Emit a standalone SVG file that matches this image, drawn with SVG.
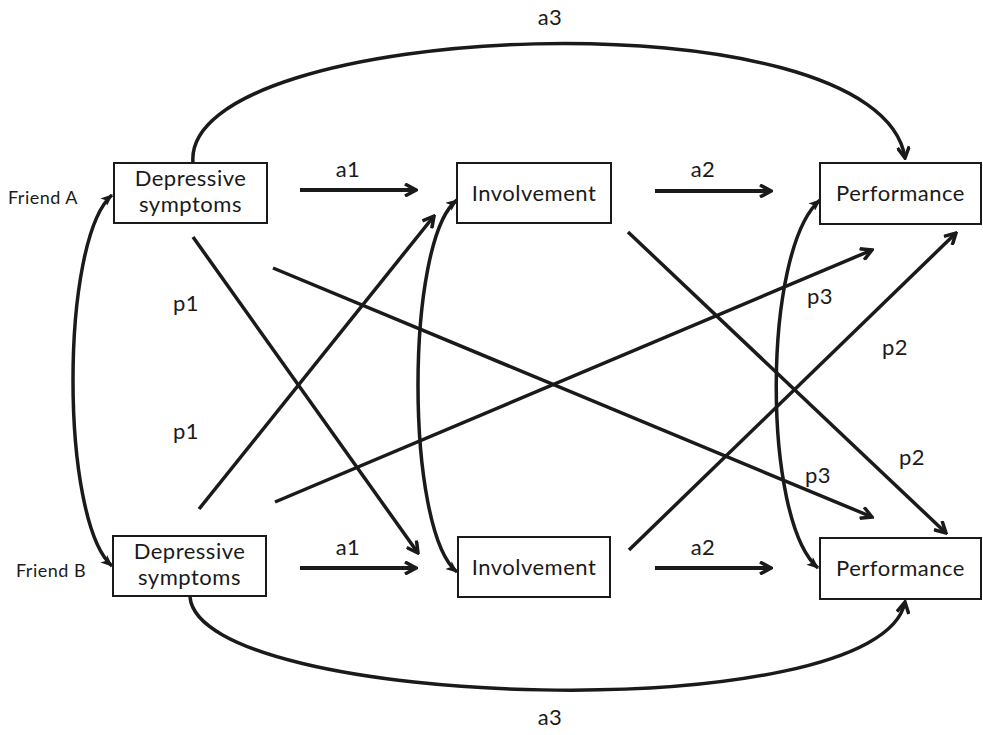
<svg xmlns="http://www.w3.org/2000/svg" width="983" height="735" viewBox="0 0 983 735">
<style>
.box{fill:#fff;stroke:#1a1a1a;stroke-width:2}
.t{font-family:Lato,"Open Sans","Liberation Sans",sans-serif;font-size:22px;letter-spacing:0.5px;fill:#1a1a1a;text-anchor:middle}
.f{font-family:Lato,"Open Sans","Liberation Sans",sans-serif;font-size:18px;letter-spacing:0.5px;fill:#1a1a1a;text-anchor:middle}
.c{fill:none;stroke:#1a1a1a;stroke-width:3.5;stroke-linecap:butt}
.s{fill:none;stroke:#1a1a1a;stroke-width:4}
</style>
<defs>
<marker id="chev" viewBox="0 0 14 14" refX="12" refY="7" markerWidth="14" markerHeight="14" markerUnits="userSpaceOnUse" orient="auto">
<path d="M1,1 L12,7 L1,13" fill="none" stroke="#1a1a1a" stroke-width="3.5" stroke-linejoin="miter"/>
</marker>
<marker id="tri" viewBox="0 0 12 10" refX="11" refY="5" markerWidth="12" markerHeight="10" markerUnits="userSpaceOnUse" orient="auto-start-reverse">
<path d="M0,0 L12,5 L0,10 L3,5 Z" fill="#1a1a1a"/>
</marker>
</defs>
<g id="connectors">
<path class="c" d="M193,163 C180,20 880,-10 905,158" marker-end="url(#chev)"/>
<path class="c" d="M190,597 C200,710 880,730 905,602" marker-end="url(#chev)"/>
<path class="c" d="M112,195 C60,240 60,520 112,566" marker-start="url(#tri)" marker-end="url(#tri)"/>
<path class="c" d="M457,200 C405,240 405,530 457,572" marker-start="url(#tri)" marker-end="url(#tri)"/>
<path class="c" d="M820,200 C762,250 762,520 818,568" marker-start="url(#tri)" marker-end="url(#tri)"/>
<line class="s" x1="300" y1="190" x2="416" y2="190" marker-end="url(#chev)"/>
<line class="s" x1="655" y1="191" x2="771" y2="191" marker-end="url(#chev)"/>
<line class="s" x1="300" y1="568" x2="416" y2="568" marker-end="url(#chev)"/>
<line class="s" x1="655" y1="568" x2="771" y2="568" marker-end="url(#chev)"/>
<line class="c" x1="193" y1="237" x2="418" y2="553" marker-end="url(#chev)"/>
<line class="c" x1="199" y1="509" x2="434" y2="216" marker-end="url(#chev)"/>
<line class="c" x1="273" y1="268" x2="872" y2="517" marker-end="url(#chev)"/>
<line class="c" x1="275" y1="502" x2="872" y2="250" marker-end="url(#chev)"/>
<line class="c" x1="628" y1="232" x2="946" y2="533" marker-end="url(#chev)"/>
<line class="c" x1="629" y1="550" x2="956" y2="233" marker-end="url(#chev)"/>
</g>
<g id="labels">
<text class="t" x="550" y="25">a3</text>
<text class="t" x="550" y="725">a3</text>
<text class="t" x="348" y="177">a1</text>
<text class="t" x="703" y="177">a2</text>
<text class="t" x="348" y="555">a1</text>
<text class="t" x="703" y="555">a2</text>
<text class="t" x="186" y="311">p1</text>
<text class="t" x="186" y="439">p1</text>
<text class="t" x="820" y="304">p3</text>
<text class="t" x="818" y="483">p3</text>
<text class="t" x="895" y="355">p2</text>
<text class="t" x="912" y="465">p2</text>
<text class="f" x="43" y="204">Friend A</text>
<text class="f" x="51" y="577">Friend B</text>
</g>
<g id="depA">
<rect class="box" x="114" y="163" width="153" height="60"/>
<text class="t" x="190.5" y="186">Depressive</text>
<text class="t" x="190.5" y="212">symptoms</text>
</g>
<g id="invA">
<rect class="box" x="457" y="163" width="154" height="60"/>
<text class="t" x="534" y="201">Involvement</text>
</g>
<g id="perfA">
<rect class="box" x="820" y="163" width="161" height="61"/>
<text class="t" x="900.5" y="201">Performance</text>
</g>
<g id="depB">
<rect class="box" x="113" y="536" width="153" height="60"/>
<text class="t" x="189.5" y="559">Depressive</text>
<text class="t" x="189.5" y="585">symptoms</text>
</g>
<g id="invB">
<rect class="box" x="458" y="537" width="152" height="60"/>
<text class="t" x="534" y="575">Involvement</text>
</g>
<g id="perfB">
<rect class="box" x="820" y="538" width="161" height="61"/>
<text class="t" x="900.5" y="576">Performance</text>
</g>
</svg>
